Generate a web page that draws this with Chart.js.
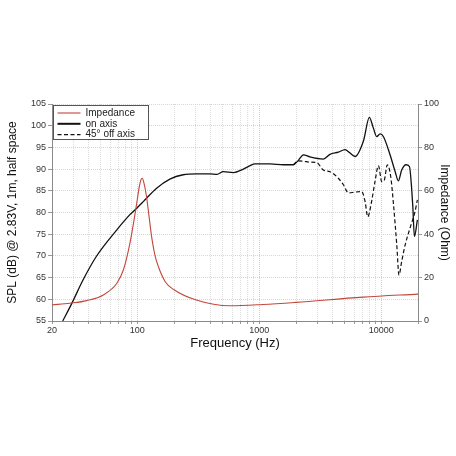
<!DOCTYPE html>
<html>
<head>
<meta charset="utf-8">
<script src="https://cdn.jsdelivr.net/npm/chart.js@4.4.1/dist/chart.umd.min.js"></script>
<style>
  html, body { margin: 0; padding: 0; background: #fff; }
  #chart { display: block; }
</style>
</head>
<body>
<canvas id="chart" width="456" height="456"></canvas>
<script>
// impedance curve (Ohm, right axis)
var impFreq = [20, 28, 38.5, 52.7, 68, 77, 87, 96, 100, 104, 107, 110, 113, 119, 125, 131, 140, 149, 170, 200, 300, 577, 1070, 2000, 7100, 20000];
var impOhm  = [7.4, 8.2, 9.4, 12, 17.4, 23.6, 35.8, 49.6, 56, 62, 65, 65.8, 64, 57.4, 48, 39, 30, 25, 18, 14.4, 9.8, 7, 7.6, 8.6, 11, 12.4];

// SPL on axis (dB, left axis)
var onFreq = [24.5, 29, 36, 46, 68, 87, 99, 112, 144, 185, 238, 307, 394, 450, 507, 612, 740, 840, 922, 1080, 1225, 1575, 1900, 2090, 2300, 2600, 3350, 3800, 4450, 5050, 5500, 6100, 7130, 7990, 8600, 9180, 9780, 10400, 11800, 12970, 13800, 14700, 15960, 17000, 18100, 18700, 19770];
var onSpl  = [55, 59, 64.5, 69.8, 76, 79.5, 81, 82.5, 85.6, 87.7, 88.7, 88.9, 88.9, 88.8, 89.4, 89.2, 90, 90.8, 91.2, 91.2, 91.2, 91, 91, 92, 93.3, 92.8, 92.3, 93.4, 93.9, 94.5, 93.8, 92.9, 96.4, 101.9, 99.5, 97.5, 98.1, 97.5, 93.3, 89.5, 87.3, 89.8, 91, 90.6, 81.8, 74.5, 78.3];

// SPL 45 deg off axis (dB, left axis) - follows on-axis below ~2 kHz
var offFreq = [1900, 2090, 2300, 2600, 2950, 3350, 3800, 4450, 4890, 5380, 6100, 6920, 7370, 7750, 8240, 8890, 9470, 10090, 10600, 11200, 11950, 12600, 13400, 13970, 14700, 15680, 17200, 18900, 19770];
var offSpl  = [91, 91.9, 91.8, 91.6, 91.5, 89.8, 89.4, 87.9, 86.4, 84.5, 84.7, 84.8, 82.5, 79, 81.8, 87.2, 90.8, 87.1, 87.5, 91, 88.3, 81.8, 72.5, 65.6, 68.7, 72.5, 76.4, 80.2, 82.9];

var xTicks = [20, 30, 40, 50, 60, 70, 80, 90, 100, 200, 300, 400, 500, 600, 700, 800, 900,
  1000, 2000, 3000, 4000, 5000, 6000, 7000, 8000, 9000, 10000, 20000];
var xLabels = [20, 100, 1000, 10000];

function toPoints(xs, ys) {
  return xs.map(function (x, i) { return { x: x, y: ys[i] }; });
}

var FONT = '"Liberation Sans", Arial, sans-serif';

// legend box drawn inside the plot, top-left
var boxLegend = {
  id: 'boxLegend',
  afterDraw: function (chart) {
    var c = chart.ctx;
    var a = chart.chartArea;
    var x0 = a.left + 1.5, y0 = a.top + 1.5, w = 95, h = 34;
    c.save();
    c.fillStyle = '#fff';
    c.fillRect(x0, y0, w, h);
    c.strokeStyle = '#555';
    c.lineWidth = 1;
    c.strokeRect(x0, y0, w, h);
    chart.data.datasets.forEach(function (ds, i) {
      var y = y0 + 7.5 + i * 10.8;
      c.beginPath();
      c.strokeStyle = ds.borderColor;
      c.lineWidth = i === 1 ? 2 : 1.1;
      c.setLineDash(ds.borderDash || []);
      c.moveTo(x0 + 4, y);
      c.lineTo(x0 + 27, y);
      c.stroke();
      c.setLineDash([]);
      c.fillStyle = '#222';
      c.font = '10px ' + FONT;
      c.textBaseline = 'middle';
      c.fillText(ds.label, x0 + 32, y);
    });
    c.restore();
  }
};

var ctx = document.getElementById('chart').getContext('2d');

var chart = new Chart(ctx, {
  type: 'line',
  data: {
    datasets: [
      {
        label: 'Impedance',
        data: toPoints(impFreq, impOhm),
        yAxisID: 'y2',
        borderColor: '#c2473c',
        borderWidth: 1.1,
        pointRadius: 0,
        cubicInterpolationMode: 'monotone'
      },
      {
        label: 'on axis',
        data: toPoints(onFreq, onSpl),
        yAxisID: 'y',
        borderColor: '#111',
        borderWidth: 1.3,
        pointRadius: 0,
        cubicInterpolationMode: 'monotone'
      },
      {
        label: '45° off axis',
        data: toPoints(offFreq, offSpl),
        yAxisID: 'y',
        borderColor: '#111',
        borderWidth: 1.2,
        borderDash: [4, 2.5],
        pointRadius: 0,
        cubicInterpolationMode: 'monotone'
      }
    ]
  },
  options: {
    responsive: false,
    animation: false,
    clip: 1,
    layout: { padding: { top: 104, bottom: 102, left: 0, right: 0 } },
    plugins: {
      legend: { display: false },
      tooltip: { enabled: false }
    },
    scales: {
      x: {
        type: 'logarithmic',
        min: 20,
        max: 20000,
        afterBuildTicks: function (s) {
          s.ticks = xTicks.map(function (v) { return { value: v }; });
        },
        afterFit: function (s) { s.height = 33; },
        ticks: {
          autoSkip: false,
          maxRotation: 0,
          padding: 1,
          color: '#333',
          font: { family: FONT, size: 9 },
          callback: function (v) { return xLabels.indexOf(v) >= 0 ? String(v) : ''; }
        },
        grid: {
          color: function (c) {
            var v = c.tick && c.tick.value;
            return xLabels.indexOf(v) >= 0 ? '#cfcfcf' : '#dcdcdc';
          },
          tickLength: 3,
          tickColor: '#999',
          lineWidth: 1
        },
        border: { color: '#8a8a8a', width: 1, dash: [1, 1] },
        title: {
          display: true,
          text: 'Frequency (Hz)',
          color: '#111',
          padding: { top: 2, bottom: 3 },
          font: { family: FONT, size: 13 }
        }
      },
      y: {
        position: 'left',
        min: 55,
        max: 105,
        afterFit: function (s) { s.width = 52; },
        ticks: {
          stepSize: 5,
          padding: 2,
          color: '#333',
          font: { family: FONT, size: 9 }
        },
        grid: { color: '#d6d6d6', tickLength: 4, tickColor: '#999' },
        border: { color: '#8a8a8a', width: 1, dash: [1, 1] },
        title: {
          display: true,
          text: 'SPL (dB) @ 2.83V, 1m, half space',
          color: '#111',
          padding: { top: 5, bottom: 0 },
          font: { family: FONT, size: 12 }
        }
      },
      y2: {
        position: 'right',
        min: 0,
        max: 100,
        afterFit: function (s) { s.width = 38; },
        ticks: {
          stepSize: 20,
          padding: 2,
          color: '#333',
          font: { family: FONT, size: 9 }
        },
        grid: { drawOnChartArea: false, tickLength: 4, tickColor: '#999' },
        border: { color: '#8a8a8a', width: 1 },
        title: {
          display: true,
          text: 'Impedance (Ohm)',
          color: '#111',
          padding: { top: 4, bottom: 0 },
          font: { family: FONT, size: 12 }
        }
      }
    }
  },
  plugins: [boxLegend]
});
</script>
</body>
</html>
